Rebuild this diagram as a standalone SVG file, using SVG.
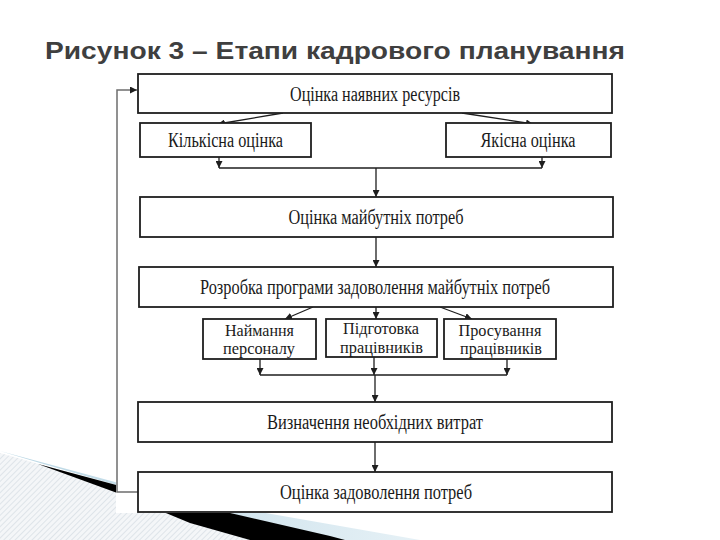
<svg xmlns="http://www.w3.org/2000/svg" width="720" height="540" viewBox="0 0 720 540">
<defs>
<style>
.box{fill:#fff;stroke:#1e1e1e;stroke-width:1.8}
.t{font-family:"Liberation Serif","Times New Roman",serif;font-size:20px;fill:#1a1a1a;text-anchor:middle}
.s{font-size:17px}
.c{fill:none;stroke:#1e1e1e;stroke-width:1.3}
.fb{fill:none;stroke:#6e6e6e;stroke-width:1.5}
</style>
<marker id="ah" viewBox="0 0 10 10" refX="10" refY="5" markerWidth="7" markerHeight="7" markerUnits="userSpaceOnUse" orient="auto">
<path d="M0,0 L10,5 L0,10 z" fill="#1e1e1e"/>
</marker>
<pattern id="hatch" width="4" height="4" patternUnits="userSpaceOnUse" patternTransform="rotate(45)">
<rect width="4" height="4" fill="#f4f6f8"/>
<line x1="0" y1="0" x2="0" y2="4" stroke="#c9d2da" stroke-width="1"/>
</pattern>
<linearGradient id="blue" x1="0" y1="0" x2="1" y2="0">
<stop offset="0" stop-color="#b9d6e4"/>
<stop offset="1" stop-color="#e6f1f6"/>
</linearGradient>
</defs>
<rect width="720" height="540" fill="#fff"/>
<g id="decor">
<polygon points="0,453 120,487 250,516 400,540 0,540" fill="url(#hatch)"/>
<polygon points="0,451 40,463 120,486 260,512 420,540 330,540" fill="url(#blue)"/>
<polygon points="38,464 120,486 200,506 330,536 345,540 250,540 190,523 120,494" fill="#000"/>
<rect x="116" y="70" width="506" height="443" fill="#fff"/>
</g>
<text x="45" y="59" font-family="'Liberation Sans',Arial,sans-serif" font-weight="bold" font-size="24" fill="#3f3f3f" textLength="580" lengthAdjust="spacingAndGlyphs">Рисунок 3 – Етапи кадрового планування</text>
<g id="connectors">
<polyline class="fb" points="138,492 117,492 117,90 137,90" marker-end="url(#ah)"/>
<line class="c" x1="283" y1="113" x2="218" y2="124" marker-end="url(#ah)"/>
<line class="c" x1="462" y1="113" x2="533" y2="124" marker-end="url(#ah)"/>
<line class="c" x1="219" y1="157" x2="219" y2="168" marker-end="url(#ah)"/>
<line class="c" x1="542" y1="157" x2="542" y2="168" marker-end="url(#ah)"/>
<line class="c" x1="219" y1="168" x2="542" y2="168"/>
<line class="c" x1="376" y1="168" x2="376" y2="197" marker-end="url(#ah)"/>
<line class="c" x1="376" y1="237" x2="376" y2="267" marker-end="url(#ah)"/>
<line class="c" x1="313" y1="307" x2="285" y2="319" marker-end="url(#ah)"/>
<line class="c" x1="376" y1="307" x2="376" y2="319" marker-end="url(#ah)"/>
<line class="c" x1="440" y1="307" x2="472" y2="319" marker-end="url(#ah)"/>
<line class="c" x1="260" y1="359" x2="260" y2="375" marker-end="url(#ah)"/>
<line class="c" x1="374" y1="357" x2="374" y2="375" marker-end="url(#ah)"/>
<line class="c" x1="507" y1="359" x2="507" y2="375" marker-end="url(#ah)"/>
<line class="c" x1="260" y1="375" x2="507" y2="375"/>
<line class="c" x1="375" y1="375" x2="375" y2="402" marker-end="url(#ah)"/>
<line class="c" x1="375" y1="442" x2="375" y2="472" marker-end="url(#ah)"/>
</g>
<g id="n1"><rect class="box" x="138" y="74" width="474" height="39"/><text class="t" x="375" y="100.5" textLength="170" lengthAdjust="spacingAndGlyphs">Оцінка наявних ресурсів</text></g>
<g id="n2"><rect class="box" x="140" y="123" width="171" height="34"/><text class="t" x="225.5" y="146.5" textLength="115" lengthAdjust="spacingAndGlyphs">Кількісна оцінка</text></g>
<g id="n3"><rect class="box" x="446" y="123" width="165" height="34"/><text class="t" x="528" y="146.5" textLength="95" lengthAdjust="spacingAndGlyphs">Якісна оцінка</text></g>
<g id="n4"><rect class="box" x="140" y="197" width="473" height="40"/><text class="t" x="376" y="224" textLength="175" lengthAdjust="spacingAndGlyphs">Оцінка майбутніх потреб</text></g>
<g id="n5"><rect class="box" x="139" y="267" width="474" height="40"/><text class="t" x="375" y="294" textLength="350" lengthAdjust="spacingAndGlyphs">Розробка програми задоволення майбутніх потреб</text></g>
<g id="n6"><rect class="box" x="203" y="319" width="113" height="40"/><text class="t s" x="259.5" y="336" textLength="69" lengthAdjust="spacingAndGlyphs">Наймання</text><text class="t s" x="259" y="354" textLength="72" lengthAdjust="spacingAndGlyphs">персоналу</text></g>
<g id="n7"><rect class="box" x="326" y="319" width="111" height="38"/><text class="t s" x="381" y="334" textLength="76" lengthAdjust="spacingAndGlyphs">Підготовка</text><text class="t s" x="381.5" y="352.5" textLength="83" lengthAdjust="spacingAndGlyphs">працівників</text></g>
<g id="n8"><rect class="box" x="444" y="319" width="112" height="40"/><text class="t s" x="500" y="336" textLength="83" lengthAdjust="spacingAndGlyphs">Просування</text><text class="t s" x="501" y="354" textLength="82" lengthAdjust="spacingAndGlyphs">працівників</text></g>
<g id="n9"><rect class="box" x="138" y="402" width="474" height="40"/><text class="t" x="375" y="429" textLength="216" lengthAdjust="spacingAndGlyphs">Визначення необхідних витрат</text></g>
<g id="n10"><rect class="box" x="138" y="472" width="474" height="40"/><text class="t" x="376" y="499" textLength="192" lengthAdjust="spacingAndGlyphs">Оцінка задоволення потреб</text></g>
</svg>
